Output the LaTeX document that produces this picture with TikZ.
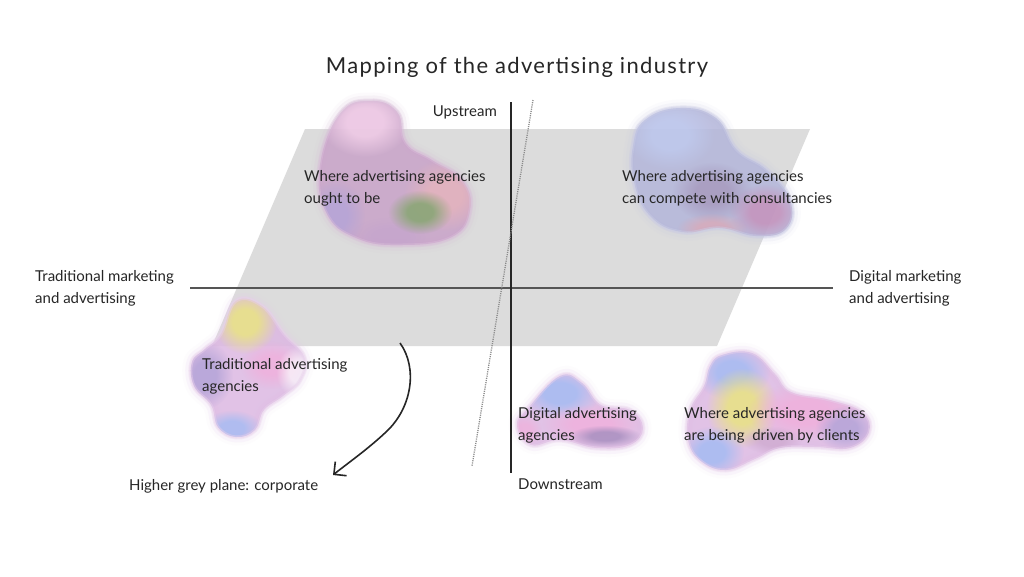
\documentclass[tikz,border=0pt]{standalone}
\usepackage{fontspec}
\setmainfont{Lato}
\usetikzlibrary{fadings,arrows.meta}
\pgfdeclareradialshading{softedgeshade}{\pgfpointorigin}{color(0bp)=(pgftransparent!0); color(10bp)=(pgftransparent!0); color(25bp)=(pgftransparent!100); color(50bp)=(pgftransparent!100)}
\pgfdeclarefading{softblob}{\pgfuseshading{softedgeshade}}
\definecolor{planegrey}{HTML}{DCDCDC}
\definecolor{inkc}{HTML}{262626}
\definecolor{axisc}{HTML}{555555}
\definecolor{dotc}{HTML}{8A8A8A}
\definecolor{bpink}{HTML}{F0B0DC}
\definecolor{bmauve}{HTML}{C9A3C9}
\definecolor{bblue}{HTML}{A8BCF2}
\definecolor{blav}{HTML}{B4A4D8}
\definecolor{byel}{HTML}{E8E08C}
\definecolor{bgreen}{HTML}{8AA676}
\definecolor{bpurp}{HTML}{A890C0}
\definecolor{bwarm}{HTML}{E6B4BC}
\definecolor{bgreyblue}{HTML}{B4B6DA}
\definecolor{bbase}{HTML}{DCB8E2}
\newcommand{\fz}[6]{\fill[#5, fill opacity=#6, path fading=softblob] (#1,#2) ellipse [x radius=#3pt, y radius=#4pt];}
\tikzset{
  lbl/.style={font=\fontsize{15}{22}\selectfont, text=inkc, inner sep=0pt, align=left, anchor=north west},
  blobbase/.style={fill opacity=0.85},
}
\newcommand{\softedge}[2]{%
  \draw[#1, line width=5pt, opacity=0.3] #2;
  \draw[#1, line width=11pt, opacity=0.14] #2;
  \draw[#1, line width=17pt, opacity=0.06] #2;}
\newcommand{\softin}[2]{%
  \draw[#1, line width=3pt, opacity=0.45] #2;}
\def\blobA{plot[smooth cycle, tension=0.75] coordinates {(340,114) (370,101) (397,112) (406,143) (432,160) (462,180) (470,210) (452,237) (402,245) (356,238) (326,212) (320,165)}}
\def\blobB{plot[smooth cycle, tension=0.75] coordinates {(645,120) (680,108) (716,118) (737,150) (767,170) (790,200) (786,229) (756,236) (720,228) (682,232) (650,216) (634,182) (633,146)}}
\def\blobC{plot[smooth cycle, tension=0.7] coordinates {(236,301) (262,306) (284,334) (304,357) (300,380) (283,396) (264,410) (255,430) (236,437) (218,427) (211,405) (194,386) (192,362) (205,349) (221,334)}}
\def\blobD{plot[smooth cycle, tension=0.7] coordinates {(560,376) (582,383) (601,405) (630,410) (643,428) (630,445) (596,448) (560,440) (531,445) (517,425) (529,407)}}
\def\blobE{plot[smooth cycle, tension=0.7] coordinates {(722,355) (752,353) (775,374) (791,392) (830,400) (862,412) (869,432) (850,448) (815,447) (780,448) (755,459) (726,470) (701,461) (688,440) (690,410) (704,386) (710,366)}}
\begin{document}
\begin{tikzpicture}[x=1pt,y=-1pt]
\useasboundingbox[fill=white] (0,0) rectangle (1024,576);
% grey plane
\fill[planegrey] (305,129) -- (810,129) -- (717,346) -- (212,346) -- cycle;
% blob 1 (top left)
\softedge{bmauve!75!white}{\blobA}
\begin{scope}
\clip \blobA;
\fill[bmauve, blobbase] (300,90) rectangle (490,260);
\fz{365}{122}{45}{35}{bpink!55!white}{0.75}
\fz{335}{215}{30}{35}{blav}{0.8}
\fz{445}{195}{42}{36}{bwarm}{0.8}
\fz{390}{237}{40}{20}{bmauve!70!blav}{0.6}
\fz{420}{212}{32}{22}{bgreen}{0.9}
\end{scope}
\softin{bmauve!70!white}{\blobA}
% blob 2 (top right)
\softedge{bgreyblue!75!white}{\blobB}
\begin{scope}
\clip \blobB;
\fill[bgreyblue, blobbase] (620,95) rectangle (800,245);
\fz{670}{135}{45}{35}{bblue!70!white}{0.6}
\fz{712}{192}{40}{30}{bpurp!80!gray}{0.6}
\fz{765}{212}{36}{28}{bmauve!85!purple}{0.7}
\fz{712}{228}{35}{15}{bwarm!90!red}{0.55}
\end{scope}
\softin{bgreyblue!70!white}{\blobB}
% blob 3 (left)
\softedge{bbase!70!white}{\blobC}
\begin{scope}
\clip \blobC;
\fill[bbase, blobbase] (185,295) rectangle (310,440);
\fz{245}{322}{32}{32}{byel}{0.95}
\fz{205}{375}{28}{34}{blav}{0.85}
\fz{272}{365}{32}{24}{bpink}{0.8}
\fz{298}{372}{22}{26}{white}{0.65}
\fz{232}{428}{30}{18}{bblue}{0.85}
\end{scope}
\softin{bbase!65!white}{\blobC}
% blob 4 (digital)
\softedge{bbase!70!white}{\blobD}
\begin{scope}
\clip \blobD;
\fill[bbase, blobbase] (510,370) rectangle (650,455);
\fz{560}{393}{40}{26}{bblue}{0.9}
\fz{592}{424}{50}{20}{bpink}{0.8}
\fz{605}{436}{36}{11}{bpurp}{0.85}
\fz{524}{430}{18}{16}{bpink}{0.7}
\end{scope}
\softin{bbase!65!white}{\blobD}
% blob 5 (driven)
\softedge{bbase!70!white}{\blobE}
\begin{scope}
\clip \blobE;
\fill[bbase, blobbase] (680,345) rectangle (875,475);
\fz{732}{372}{38}{28}{bblue}{0.9}
\fz{742}{408}{36}{40}{byel}{0.95}
\fz{805}{412}{58}{30}{bpink}{0.85}
\fz{845}{428}{30}{22}{blav}{0.85}
\fz{712}{452}{32}{26}{bblue}{0.9}
\fz{772}{440}{30}{14}{bmauve}{0.6}
\end{scope}
\softin{bbase!65!white}{\blobE}
% axes
\coordinate (hl) at (190,288);
\coordinate (hr) at (833,288);
\coordinate (vt) at (511,102);
\coordinate (vb) at (511,473);
\coordinate (dt) at (533,100);
\coordinate (db) at (472,466);
\draw[axisc, line width=1.2pt] (hl) -- (hr);
\draw[inkc, line width=1.5pt] (vt) -- (vb);
\draw[dotc, line width=1.3pt, dash pattern=on 1.1pt off 1.1pt] (dt) -- (db);
% title
\node[font=\fontsize{22}{26}\selectfont\addfontfeature{LetterSpace=6}, text=inkc] (title) at (517,67) {Mapping of the advertising industry};
% labels
\node[lbl, anchor=north east] (up) at (497,106) {Upstream};
\node[lbl] (tm) at (35,270) {Traditional marketing\\and advertising};
\node[lbl] (dm) at (849,270) {Digital marketing\\and advertising};
\node[lbl] (ought) at (304,170) {Where advertising agencies\\ought to be};
\node[lbl] (cons) at (622,170) {Where advertising agencies\\can compete with consultancies};
\node[lbl] (trad) at (202,358) {Traditional advertising\\agencies};
\node[lbl] (dig) at (518,407) {Digital advertising\\agencies};
\node[lbl] (drv) at (684,407) {Where advertising agencies\\are being\ \ driven by clients};
\node[lbl] (corp) at (129,479) {Higher grey plane: corporate};
\node[lbl] (down) at (518,479) {Downstream};
% arrow
\coordinate (as) at (400,343);
\coordinate (ae) at (333,475);
\draw[inkc, line width=1.6pt, -{Straight Barb[length=9pt,width=18pt]}] (as) .. controls (418,368) and (412,408) .. (386,432) .. controls (368,449) and (348,463) .. (ae);
\end{tikzpicture}
\end{document}
